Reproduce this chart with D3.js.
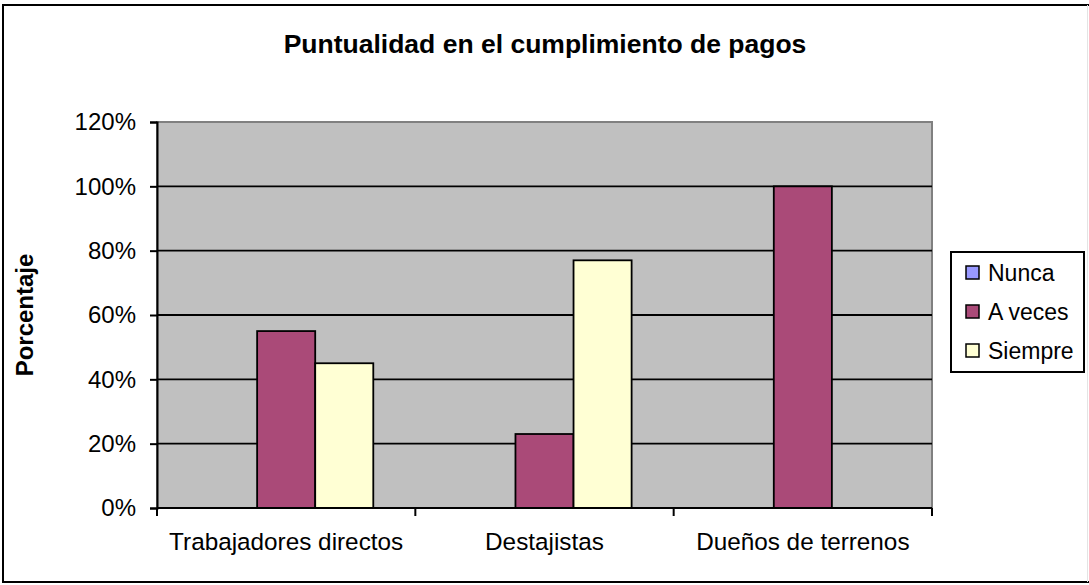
<!DOCTYPE html>
<html lang="es">
<head>
    <meta charset="UTF-8">
    <title>Puntualidad en el cumplimiento de pagos</title>
    <script src="https://cdnjs.cloudflare.com/ajax/libs/d3/7.8.5/d3.min.js"></script>
    <style>
      body { margin: 0; background-color: white; overflow: hidden; }
      text { font-family: "Liberation Sans", Arial, sans-serif; fill: black; }
    </style>
</head>
<body>
    <div id="chart"></div>
    <script>
        // data
        const categories = ["Trabajadores directos", "Destajistas", "Dueños de terrenos"];
        const series = ["Nunca", "A veces", "Siempre"];
        const nunca = [0, 0, 0];
        const aVeces = [0.55, 0.23, 1.00];
        const siempre = [0.45, 0.77, 0];
        const yTicks = [0, 0.2, 0.4, 0.6, 0.8, 1.0, 1.2];
        const colors = ["#9999FF", "#AA4A78", "#FFFFD4"];

        const width = 1089, height = 585;
        const plot = {left: 157, right: 932, top: 122, bottom: 508};

        const svg = d3.select("#chart").append("svg")
            .attr("width", width)
            .attr("height", height)
            .style("display", "block");

        // outer frame (right edge runs off the picture, only a faint line there)
        svg.append("rect")
            .attr("x", 3).attr("y", 5)
            .attr("width", 1095).attr("height", 577)
            .attr("fill", "white")
            .attr("stroke", "black")
            .attr("stroke-width", 2);
        svg.append("line")
            .attr("x1", 1087.5).attr("x2", 1087.5)
            .attr("y1", 5).attr("y2", 582)
            .attr("stroke", "#e4e4e4")
            .attr("stroke-width", 1);

        svg.append("text")
            .attr("x", 545).attr("y", 53)
            .attr("text-anchor", "middle")
            .style("font-size", "26.5px")
            .style("font-weight", "bold")
            .text("Puntualidad en el cumplimiento de pagos");

        const y = d3.scaleLinear().domain([0, 1.2]).range([plot.bottom, plot.top]);
        const x0 = d3.scaleBand().domain(categories).range([plot.left, plot.right]);
        const x1 = d3.scaleBand().domain(series).range([0, x0.bandwidth()])
            .paddingInner(0).paddingOuter(0.724);

        // plot background
        svg.append("rect")
            .attr("x", plot.left).attr("y", plot.top)
            .attr("width", plot.right - plot.left)
            .attr("height", plot.bottom - plot.top)
            .attr("fill", "#C0C0C0")
            .attr("stroke", "#808080")
            .attr("stroke-width", 2);

        // gridlines
        svg.append("g").selectAll("line")
            .data(yTicks.filter(d => d > 0 && d < 1.2))
            .join("line")
            .attr("x1", plot.left).attr("x2", plot.right)
            .attr("y1", d => y(d)).attr("y2", d => y(d))
            .attr("stroke", "black")
            .attr("stroke-width", 1.8);

        // bars
        const rows = categories.map((c, i) => ({
            cat: c,
            vals: [nunca[i], aVeces[i], siempre[i]]
        }));

        svg.append("g").selectAll("g")
            .data(rows)
            .join("g")
            .attr("transform", d => `translate(${x0(d.cat)},0)`)
            .selectAll("rect")
            .data(d => d.vals.map((v, j) => ({s: series[j], v: v, j: j})))
            .join("rect")
            .attr("x", d => x1(d.s))
            .attr("y", d => y(d.v))
            .attr("width", x1.bandwidth())
            .attr("height", d => y(0) - y(d.v))
            .attr("fill", d => colors[d.j])
            .attr("stroke", "black")
            .attr("stroke-width", 1.8);

        // y axis
        const yAxis = d3.axisLeft(y)
            .tickValues(yTicks)
            .tickSize(7)
            .tickPadding(14)
            .tickFormat(d3.format(".0%"));

        const ya = svg.append("g")
            .attr("transform", `translate(${plot.left},0)`)
            .call(yAxis);
        ya.select(".domain").attr("stroke", "black").attr("stroke-width", 2);
        ya.selectAll(".tick line").attr("stroke", "black").attr("stroke-width", 2);
        ya.selectAll(".tick text")
            .style("font-size", "24px")
            .style("font-family", '"Liberation Sans", Arial, sans-serif')
            .attr("fill", "black");

        // x axis line + ticks at category boundaries
        svg.append("line")
            .attr("x1", plot.left).attr("x2", plot.right)
            .attr("y1", y(0)).attr("y2", y(0))
            .attr("stroke", "black").attr("stroke-width", 2);

        const bounds = categories.map(c => x0(c)).concat([x0.range()[1]]);
        svg.append("g").selectAll("line")
            .data(bounds)
            .join("line")
            .attr("x1", d => d).attr("x2", d => d)
            .attr("y1", y(0)).attr("y2", y(0) + 8)
            .attr("stroke", "black").attr("stroke-width", 2);

        svg.append("g").selectAll("text")
            .data(categories)
            .join("text")
            .attr("x", d => x0(d) + x0.bandwidth() / 2)
            .attr("y", 550)
            .attr("text-anchor", "middle")
            .style("font-size", "24.3px")
            .text(d => d);

        // y title
        svg.append("text")
            .attr("transform", "translate(33,315) rotate(-90)")
            .attr("text-anchor", "middle")
            .style("font-size", "24px")
            .style("font-weight", "bold")
            .text("Porcentaje");

        // legend
        const legend = svg.append("g");
        legend.append("rect")
            .attr("x", 951).attr("y", 252)
            .attr("width", 133).attr("height", 120)
            .attr("fill", "white")
            .attr("stroke", "black")
            .attr("stroke-width", 2);

        const items = legend.selectAll("g.item")
            .data(series)
            .join("g")
            .attr("class", "item")
            .attr("transform", (d, i) => `translate(966,${273 + i * 39})`);

        items.append("rect")
            .attr("x", 0).attr("y", -7)
            .attr("width", 13).attr("height", 13)
            .attr("fill", (d, i) => colors[i])
            .attr("stroke", "black")
            .attr("stroke-width", 1.5);

        items.append("text")
            .attr("x", 22).attr("y", 0)
            .attr("dy", "0.35em")
            .style("font-size", "23px")
            .text(d => d);
    </script>
</body>
</html>
